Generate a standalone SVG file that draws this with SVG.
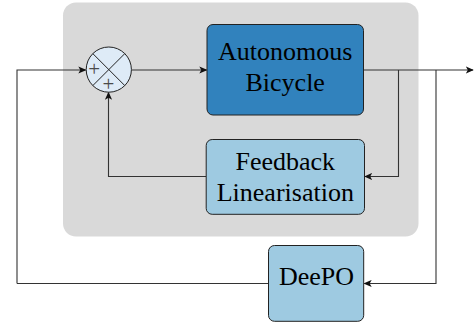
<svg xmlns="http://www.w3.org/2000/svg" width="476" height="326" viewBox="0 0 476 326">
  <defs>
    <marker id="arr" viewBox="0 0 10 10" refX="9" refY="5" markerWidth="8" markerHeight="8" markerUnits="userSpaceOnUse" orient="auto">
      <path d="M0,0.5 L10,5 L0,9.5 L2.5,5 Z" fill="#111"/>
    </marker>
  </defs>
  <style>
    .blk { stroke: #222; stroke-width: 1; }
    .lbl { font-family: "Liberation Serif", "Times New Roman", serif; font-size: 26px; fill: #000; text-anchor: middle; }
    .sgn { font-family: "Liberation Serif", "Times New Roman", serif; font-size: 21px; fill: #4a4a4a; text-anchor: middle; }
    .wire { fill: none; stroke: #333; stroke-width: 1.1; }
  </style>

  <!-- inner loop background -->
  <rect id="inner-loop" x="63" y="2.5" width="355.5" height="234" rx="13" fill="#d9d9d9"/>

  <!-- connectors -->
  <g id="connectors">
    <path class="wire" d="M17,283.5 L17,70 L85.5,70" marker-end="url(#arr)"/>
    <path class="wire" d="M131.5,70 L206.5,70" marker-end="url(#arr)"/>
    <path class="wire" d="M363.5,70 L473,70" marker-end="url(#arr)"/>
    <path class="wire" d="M398.5,70 L398.5,176.5 L365,176.5" marker-end="url(#arr)"/>
    <path class="wire" d="M436,70 L436,283.5 L364.5,283.5" marker-end="url(#arr)"/>
    <path class="wire" d="M17,283.5 L268.5,283.5"/>
    <path class="wire" d="M206,176.5 L108.5,176.5 L108.5,92.5" marker-end="url(#arr)"/>
  </g>

  <!-- summing junction -->
  <g id="sum">
    <circle cx="108.8" cy="69.6" r="22.6" fill="#deebf7" class="blk"/>
    <path d="M92.8,53.6 L124.8,85.6 M124.8,53.6 L92.8,85.6" class="blk"/>
    <text class="sgn" x="94.2" y="75.5">+</text>
    <text class="sgn" x="108.5" y="90.5">+</text>
  </g>

  <g id="bicycle">
    <rect x="207" y="24.5" width="156.5" height="90.5" rx="6" fill="#3182bd" class="blk"/>
    <text class="lbl" x="285.2" y="59.5">Autonomous</text>
    <text class="lbl" x="285.2" y="91">Bicycle</text>
  </g>

  <g id="feedback">
    <rect x="206.2" y="139.5" width="158.3" height="74.8" rx="6" fill="#9ecae1" class="blk"/>
    <text class="lbl" x="285.3" y="170">Feedback</text>
    <text class="lbl" x="285.3" y="201">Linearisation</text>
  </g>

  <g id="deepo">
    <rect x="268.5" y="245.5" width="95.2" height="75.8" rx="6" fill="#9ecae1" class="blk"/>
    <text class="lbl" x="316.5" y="285">DeePO</text>
  </g>
</svg>
